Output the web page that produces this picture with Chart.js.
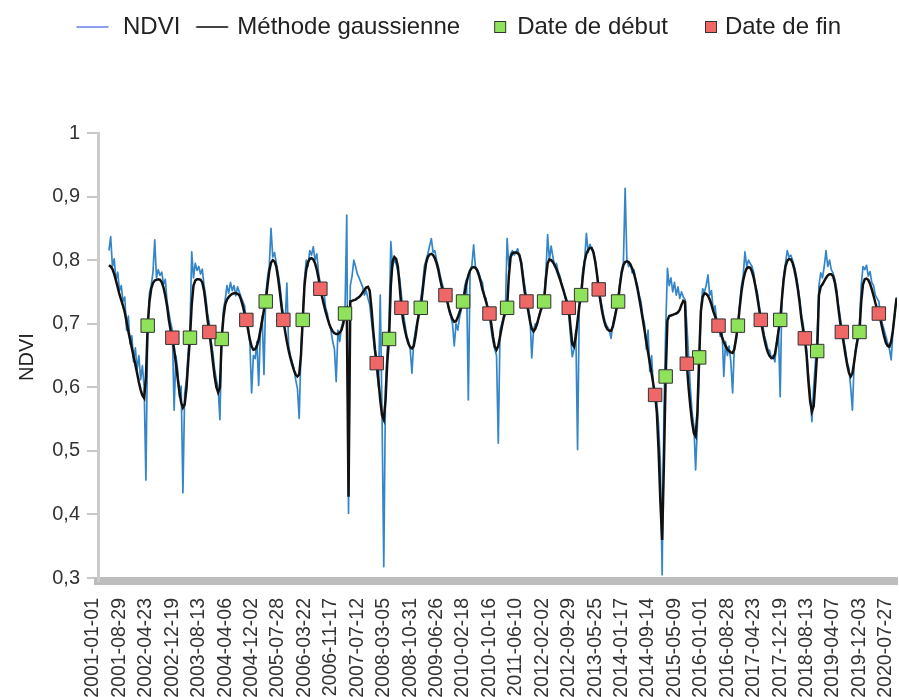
<!DOCTYPE html>
<html lang="fr">
<head>
<meta charset="utf-8">
<title>NDVI – méthode gaussienne</title>
<script src="https://cdn.jsdelivr.net/npm/chart.js@4/dist/chart.umd.min.js"></script>
<style>
  html, body { margin: 0; padding: 0; background: #fff; }
  canvas { display: block; }
</style>
</head>
<body>
<canvas id="ndviChart" width="899" height="697"></canvas>
<script>
// 16-day composites; the series starts at composite #9 of the axis
const firstComposite = 9;

const xTickLabels = [
  "2001-01-01", "2001-08-29", "2002-04-23", "2002-12-19", "2003-08-13", "2004-04-06",
  "2004-12-02", "2005-07-28", "2006-03-22", "2006-11-17", "2007-07-12", "2008-03-05",
  "2008-10-31", "2009-06-26", "2010-02-18", "2010-10-16", "2011-06-10", "2012-02-02",
  "2012-09-29", "2013-05-25", "2014-01-17", "2014-09-14", "2015-05-09", "2016-01-01",
  "2016-08-28", "2017-04-23", "2017-12-19", "2018-08-13", "2019-04-07", "2019-12-03",
  "2020-07-27"
];
const yTicks = [0.3, 0.4, 0.5, 0.6, 0.7, 0.8, 0.9, 1];
const yTickLabels = ["0,3", "0,4", "0,5", "0,6", "0,7", "0,8", "0,9", "1"];

const ndvi = [
  0.815,0.837,0.790,0.802,0.768,0.781,0.752,0.760,0.735,0.742,
  0.690,0.712,0.668,0.681,0.640,0.662,0.628,0.650,0.612,0.634,
  0.600,0.454,0.690,0.748,0.760,0.781,0.832,0.772,0.785,0.776,
  0.781,0.762,0.770,0.735,0.718,0.702,0.690,0.564,0.650,0.628,
  0.585,0.602,0.434,0.590,0.612,0.655,0.690,0.813,0.772,0.795,
  0.784,0.790,0.778,0.786,0.760,0.742,0.716,0.700,0.672,0.655,
  0.628,0.612,0.598,0.549,0.680,0.722,0.738,0.760,0.748,0.765,
  0.752,0.760,0.744,0.758,0.750,0.742,0.735,0.728,0.700,0.698,
  0.670,0.591,0.650,0.645,0.672,0.603,0.690,0.712,0.620,0.745,
  0.772,0.790,0.850,0.805,0.812,0.795,0.780,0.762,0.735,0.712,
  0.700,0.764,0.665,0.650,0.640,0.630,0.612,0.598,0.551,0.660,
  0.712,0.770,0.800,0.790,0.815,0.808,0.821,0.800,0.810,0.780,
  0.762,0.745,0.752,0.725,0.716,0.700,0.690,0.672,0.660,0.609,
  0.690,0.672,0.695,0.705,0.722,0.871,0.402,0.760,0.775,0.800,
  0.790,0.778,0.772,0.765,0.758,0.745,0.752,0.740,0.730,0.705,
  0.680,0.652,0.628,0.600,0.745,0.560,0.318,0.600,0.660,0.700,
  0.829,0.790,0.800,0.795,0.782,0.772,0.745,0.718,0.700,0.682,
  0.672,0.660,0.622,0.672,0.690,0.705,0.720,0.740,0.760,0.790,
  0.800,0.810,0.822,0.834,0.812,0.815,0.800,0.790,0.776,0.765,
  0.755,0.742,0.738,0.720,0.712,0.700,0.665,0.700,0.690,0.710,
  0.722,0.738,0.760,0.770,0.580,0.782,0.792,0.824,0.790,0.786,
  0.780,0.770,0.765,0.742,0.740,0.725,0.712,0.690,0.672,0.660,
  0.650,0.512,0.690,0.700,0.712,0.715,0.834,0.790,0.810,0.815,
  0.808,0.812,0.818,0.805,0.800,0.780,0.760,0.742,0.725,0.710,
  0.646,0.690,0.700,0.698,0.712,0.722,0.730,0.745,0.780,0.840,
  0.800,0.822,0.805,0.790,0.795,0.782,0.775,0.762,0.755,0.740,
  0.730,0.715,0.680,0.648,0.660,0.690,0.502,0.735,0.750,0.785,
  0.800,0.842,0.812,0.825,0.818,0.815,0.800,0.780,0.760,0.740,
  0.725,0.710,0.700,0.695,0.690,0.677,0.700,0.712,0.725,0.742,
  0.765,0.785,0.795,0.913,0.800,0.790,0.795,0.780,0.785,0.770,
  0.760,0.745,0.735,0.712,0.700,0.660,0.690,0.625,0.650,0.600,
  0.590,0.575,0.540,0.480,0.305,0.560,0.690,0.787,0.760,0.772,
  0.750,0.765,0.745,0.758,0.740,0.750,0.742,0.738,0.700,0.650,
  0.600,0.560,0.540,0.470,0.540,0.620,0.725,0.755,0.750,0.760,
  0.777,0.745,0.752,0.720,0.728,0.705,0.700,0.680,0.690,0.617,
  0.672,0.650,0.665,0.640,0.591,0.665,0.672,0.700,0.730,0.760,
  0.775,0.813,0.790,0.800,0.795,0.790,0.780,0.760,0.750,0.730,
  0.712,0.700,0.682,0.672,0.660,0.658,0.645,0.650,0.640,0.672,
  0.690,0.585,0.745,0.775,0.795,0.815,0.805,0.808,0.800,0.790,
  0.778,0.760,0.740,0.715,0.700,0.680,0.660,0.620,0.590,0.546,
  0.600,0.640,0.680,0.760,0.780,0.772,0.790,0.815,0.790,0.800,
  0.785,0.780,0.770,0.755,0.730,0.712,0.690,0.675,0.660,0.640,
  0.630,0.600,0.564,0.640,0.665,0.680,0.700,0.760,0.790,0.785,
  0.792,0.775,0.782,0.765,0.760,0.745,0.740,0.735,0.712,0.700,
  0.690,0.680,0.670,0.660,0.643,0.690,0.715,0.742
];

const gaussian = [
  0.792,0.790,0.786,0.778,0.768,0.757,0.746,0.737,0.728,0.718,
  0.703,0.688,0.675,0.662,0.648,0.636,0.622,0.608,0.596,0.587,
  0.583,0.615,0.697,0.735,0.755,0.764,0.768,0.769,0.770,0.769,
  0.765,0.757,0.744,0.728,0.706,0.690,0.678,0.660,0.638,0.615,
  0.593,0.576,0.568,0.573,0.598,0.640,0.678,0.730,0.760,0.768,
  0.770,0.770,0.769,0.765,0.752,0.730,0.706,0.687,0.665,0.640,
  0.617,0.600,0.592,0.600,0.676,0.710,0.730,0.738,0.742,0.745,
  0.747,0.748,0.748,0.747,0.745,0.738,0.728,0.716,0.706,0.690,
  0.675,0.664,0.659,0.660,0.665,0.675,0.690,0.705,0.722,0.735,
  0.760,0.783,0.796,0.800,0.798,0.790,0.772,0.750,0.726,0.706,
  0.688,0.672,0.658,0.646,0.636,0.627,0.620,0.617,0.620,0.650,
  0.706,0.760,0.785,0.797,0.802,0.803,0.801,0.795,0.785,0.771,
  0.755,0.742,0.730,0.719,0.709,0.700,0.693,0.688,0.685,0.684,
  0.684,0.686,0.690,0.700,0.716,0.722,0.428,0.735,0.736,0.737,
  0.738,0.740,0.742,0.745,0.749,0.753,0.757,0.758,0.752,0.725,
  0.690,0.660,0.638,0.610,0.580,0.556,0.549,0.580,0.640,0.676,
  0.760,0.798,0.805,0.802,0.790,0.760,0.725,0.705,0.690,0.678,
  0.669,0.663,0.661,0.665,0.680,0.700,0.716,0.725,0.750,0.775,
  0.795,0.805,0.809,0.810,0.808,0.803,0.795,0.784,0.770,0.757,
  0.750,0.745,0.735,0.724,0.714,0.707,0.703,0.704,0.710,0.718,
  0.727,0.735,0.750,0.765,0.776,0.784,0.788,0.789,0.788,0.784,
  0.776,0.766,0.754,0.745,0.735,0.725,0.716,0.700,0.680,0.664,
  0.659,0.665,0.680,0.695,0.708,0.718,0.725,0.775,0.805,0.811,
  0.812,0.812,0.811,0.808,0.795,0.772,0.750,0.735,0.720,0.704,
  0.692,0.688,0.692,0.700,0.710,0.720,0.728,0.735,0.770,0.795,
  0.801,0.800,0.797,0.792,0.786,0.778,0.770,0.761,0.752,0.743,
  0.734,0.725,0.695,0.668,0.664,0.680,0.705,0.728,0.745,0.775,
  0.798,0.810,0.816,0.819,0.819,0.812,0.798,0.778,0.754,0.735,
  0.718,0.705,0.696,0.691,0.689,0.689,0.695,0.708,0.722,0.735,
  0.760,0.780,0.792,0.797,0.798,0.797,0.793,0.787,0.779,0.768,
  0.755,0.740,0.724,0.707,0.690,0.672,0.655,0.638,0.622,0.605,
  0.588,0.560,0.500,0.420,0.360,0.480,0.617,0.705,0.712,0.713,
  0.714,0.715,0.716,0.718,0.722,0.730,0.736,0.734,0.637,0.600,
  0.570,0.545,0.528,0.523,0.560,0.647,0.720,0.742,0.748,0.747,
  0.744,0.738,0.730,0.720,0.712,0.704,0.697,0.688,0.679,0.671,
  0.665,0.660,0.657,0.655,0.654,0.660,0.678,0.697,0.725,0.750,
  0.768,0.780,0.787,0.789,0.788,0.782,0.772,0.758,0.742,0.724,
  0.706,0.690,0.676,0.664,0.655,0.649,0.646,0.646,0.652,0.668,
  0.688,0.706,0.740,0.770,0.790,0.799,0.802,0.801,0.796,0.786,
  0.772,0.755,0.734,0.709,0.690,0.677,0.650,0.610,0.578,0.562,
  0.570,0.610,0.657,0.745,0.758,0.762,0.767,0.772,0.776,0.778,
  0.778,0.775,0.765,0.748,0.725,0.703,0.687,0.670,0.652,0.636,
  0.623,0.617,0.622,0.640,0.660,0.676,0.687,0.735,0.762,0.770,
  0.771,0.769,0.763,0.754,0.744,0.733,0.723,0.716,0.705,0.692,
  0.680,0.670,0.665,0.664,0.672,0.690,0.715,0.740
];

// positions (in the series) of the season start / end dates
const startIdx = [22, 46, 64, 89, 110, 134, 159, 177, 201, 226, 247, 268, 289, 316, 335, 357, 381, 402, 426];
const endIdx = [36, 57, 78, 99, 120, 152, 166, 191, 216, 237, 261, 278, 310, 328, 346, 370, 395, 416, 437];

const FONT = '"Liberation Sans", Arial, sans-serif';
Chart.defaults.font.family = FONT;

const toPoints = (arr) => arr.map((v, i) => ({ x: i + firstComposite, y: v }));
const onCurve = (idx) => idx.map(i => ({ x: i + firstComposite, y: gaussian[i] }));

// small canvases used as legend symbols (dx shifts the mark inside the legend box)
function legendMark(kind, color, dx) {
  const c = document.createElement("canvas");
  c.width = 80;
  c.height = 16;
  const g = c.getContext("2d");
  const cx = 40 + dx;
  if (kind === "line") {
    g.strokeStyle = color;
    g.lineWidth = 2;
    g.beginPath();
    g.moveTo(cx - 16, 8);
    g.lineTo(cx + 16, 8);
    g.stroke();
  } else {
    g.fillStyle = color;
    g.fillRect(cx - 5.5, 2.5, 11, 11);
    g.strokeStyle = "#333";
    g.lineWidth = 1;
    g.strokeRect(cx - 5.5, 2.5, 11, 11);
  }
  return c;
}

const legendMarks = [
  legendMark("line", "#8d9ef0", -3.5),
  legendMark("line", "#444444", 1.8),
  legendMark("rect", "#8fe35a", 10),
  legendMark("rect", "#f06767", 13)
];

// fixed legend band so the plot starts at the same height
const legendBand = {
  id: "legendBand",
  beforeInit(chart) {
    const fit = chart.legend.fit;
    chart.legend.fit = function () {
      fit.call(this);
      this.height = 133;
    };
  }
};

new Chart(document.getElementById("ndviChart"), {
  type: "line",
  data: {
    datasets: [
      {
        label: "NDVI",
        data: toPoints(ndvi),
        borderColor: "#3586c9",
        borderWidth: 1.7,
        borderJoinStyle: "round",
        pointRadius: 0,
        order: 3
      },
      {
        label: "Méthode gaussienne",
        data: toPoints(gaussian),
        borderColor: "#111111",
        borderWidth: 2.5,
        pointRadius: 0,
        order: 2
      },
      {
        label: "Date de début",
        data: onCurve(startIdx),
        showLine: false,
        pointStyle: "rect",
        pointRadius: 9.5,
        backgroundColor: "#8fe35a",
        borderColor: "#333333",
        borderWidth: 1,
        order: 1
      },
      {
        label: "Date de fin",
        data: onCurve(endIdx),
        showLine: false,
        pointStyle: "rect",
        pointRadius: 9.5,
        backgroundColor: "#f06767",
        borderColor: "#333333",
        borderWidth: 1,
        order: 0
      }
    ]
  },
  options: {
    responsive: false,
    animation: false,
    devicePixelRatio: 1,
    events: [],
    layout: { autoPadding: false, padding: { left: 25, right: 2, top: 0, bottom: 0 } },
    plugins: {
      tooltip: { enabled: false },
      legend: {
        position: "top",
        align: "center",
        labels: {
          usePointStyle: true,
          pointStyleWidth: 30,
          boxHeight: 12,
          padding: 15,
          color: "#222",
          font: { size: 24, lineHeight: 1.2 },
          generateLabels: (chart) => chart.data.datasets.map((ds, i) => ({
            text: ds.label,
            pointStyle: legendMarks[i],
            fillStyle: "rgba(0,0,0,0)",
            strokeStyle: "rgba(0,0,0,0)",
            lineWidth: 0,
            fontColor: "#222",
            hidden: false,
            datasetIndex: i
          }))
        }
      }
    },
    scales: {
      x: {
        type: "linear",
        bounds: "data",
        min: 2.8,
        max: 456.3,
        afterFit(scale) {
          scale.height = 116;
          scale.paddingLeft = 0;
          scale.paddingRight = 0;
        },
        afterBuildTicks(scale) {
          scale.ticks = xTickLabels.map((_, k) => ({ value: k * 15 }));
        },
        ticks: {
          autoSkip: false,
          minRotation: 90,
          maxRotation: 90,
          padding: 17,
          color: "#333",
          font: { size: 19.5 },
          callback: (v) => xTickLabels[Math.round(v / 15)]
        },
        grid: { display: false, drawTicks: false },
        border: { color: "#bdbdbd", width: 8 }
      },
      y: {
        min: 0.2953,
        max: 1,
        afterFit(scale) {
          scale.width = 73;
          scale.paddingTop = 0;
          scale.paddingBottom = 0;
        },
        afterBuildTicks(scale) {
          scale.ticks = yTicks.map(v => ({ value: v }));
        },
        ticks: {
          padding: 7,
          color: "#333",
          font: { size: 20 },
          callback: (v) => yTickLabels[yTicks.indexOf(v)]
        },
        grid: { drawOnChartArea: false, tickLength: 11, color: "#c8c8c8", lineWidth: 2 },
        border: { color: "#cccccc", width: 3 },
        title: {
          display: true,
          text: "NDVI",
          color: "#222",
          font: { size: 20, lineHeight: 1 },
          padding: { top: -8, bottom: 0 }
        }
      }
    }
  },
  plugins: [legendBand]
});
</script>
</body>
</html>
